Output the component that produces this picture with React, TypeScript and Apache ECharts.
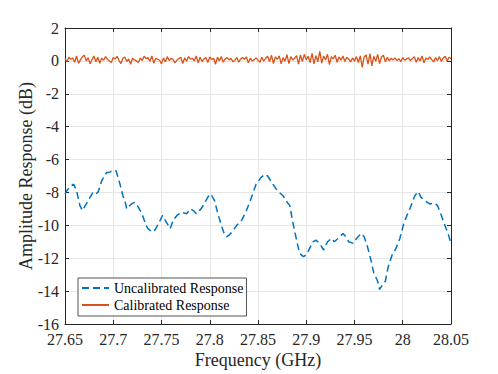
import React, { useEffect, useRef } from "react";
import * as echarts from "echarts";

const uncalFreq = [
  27.65, 27.653, 27.656, 27.659, 27.662, 27.6655, 27.668, 27.671, 27.674, 27.677,
  27.679, 27.682, 27.6845, 27.688, 27.691, 27.693, 27.697, 27.7, 27.703, 27.707,
  27.71, 27.712, 27.714, 27.717, 27.719, 27.722, 27.725, 27.728, 27.731, 27.734,
  27.736, 27.74, 27.743, 27.747, 27.751, 27.755, 27.759, 27.762, 27.766, 27.771,
  27.776, 27.78, 27.783, 27.786, 27.791, 27.795, 27.799, 27.801, 27.805, 27.808,
  27.812, 27.815, 27.8175, 27.82, 27.823, 27.828, 27.833, 27.838, 27.842, 27.845,
  27.848, 27.853, 27.857, 27.86, 27.8655, 27.869, 27.872, 27.876, 27.879, 27.883,
  27.886, 27.89, 27.893, 27.897, 27.9, 27.9035, 27.907, 27.91, 27.914, 27.918,
  27.922, 27.926, 27.929, 27.933, 27.938, 27.941, 27.944, 27.949, 27.952, 27.957,
  27.96, 27.963, 27.967, 27.97, 27.974, 27.976, 27.979, 27.982, 27.985, 27.989,
  27.993, 27.997, 28.001, 28.005, 28.008, 28.0125, 28.016, 28.019, 28.023, 28.028,
  28.033, 28.036, 28.04, 28.043, 28.047, 28.05,
];
const uncalDb = [
  -8.1, -7.8, -7.6, -7.5, -7.9, -8.8, -9.1, -8.8, -8.5, -8.2,
  -8.0, -8.1, -7.95, -7.3, -7.0, -6.8, -6.75, -6.65, -6.7, -7.5,
  -8.2, -8.5, -9.0, -8.8, -8.7, -8.6, -8.8, -9.1, -9.5, -10.0,
  -10.2, -10.4, -10.3, -9.9, -9.4, -9.8, -10.2, -9.7, -9.4, -9.2,
  -9.3, -9.0, -9.1, -9.3, -9.0, -8.6, -8.2, -8.1, -8.5, -9.2,
  -10.0, -10.5, -10.7, -10.6, -10.4, -10.0, -9.7, -9.1, -8.5, -8.0,
  -7.5, -7.1, -6.9, -7.0, -7.5, -7.8, -8.0, -8.2, -8.5, -8.8,
  -9.8, -10.9, -11.7, -11.9, -11.8, -11.4, -11.0, -10.9, -11.1, -11.5,
  -11.0, -10.8, -11.0, -10.8, -10.5, -10.7, -11.0, -11.1, -10.8, -10.5,
  -10.7, -11.2, -12.1, -12.9, -13.4, -13.9, -13.6, -13.4, -12.5, -11.8,
  -11.4, -10.8, -9.9, -9.3, -8.9, -8.2, -7.95, -8.3, -8.5, -8.7,
  -8.65, -8.8, -9.4, -9.9, -10.5, -11.1,
];

const calStart = 27.65;
const calStep = 0.002;
const calDb = [
  0.15, -0.05, 0.22, 0.10, 0.18, -0.08, 0.30, -0.15, 0.06, 0.25,
  0.35, 0.00, 0.20, -0.18, 0.08, 0.30, -0.05, 0.22, -0.14, 0.16,
  0.04, 0.26, 0.10, 0.00, -0.10, 0.20, 0.12, 0.28, 0.02, -0.16,
  0.16, 0.24, -0.04, 0.12, -0.20, 0.16, 0.06, 0.00, -0.10, 0.18,
  0.02, 0.28, 0.14, 0.20, -0.02, 0.30, -0.14, 0.16, 0.10, 0.04,
  -0.18, 0.18, -0.06, 0.26, 0.02, 0.16, 0.08, -0.12, 0.04, 0.14,
  0.22, -0.16, 0.18, -0.02, 0.26, 0.10, 0.16, 0.00, 0.30, -0.12,
  0.22, -0.04, 0.12, 0.20, -0.10, 0.24, 0.08, 0.16, -0.20, 0.22,
  0.00, 0.26, -0.08, 0.12, 0.20, 0.06, 0.16, -0.06, 0.04, 0.20,
  -0.08, 0.12, 0.20, 0.10, 0.24, -0.12, 0.16, 0.00, 0.06, 0.18,
  0.04, -0.08, 0.22, -0.02, 0.16, 0.28, -0.06, 0.34, -0.16, 0.24,
  0.10, 0.30, -0.18, 0.20, -0.02, 0.38, -0.16, 0.26, 0.06, 0.16,
  0.32, -0.20, 0.36, -0.04, 0.40, 0.06, 0.28, -0.10, 0.46, -0.18,
  0.32, -0.06, 0.58, -0.14, 0.30, 0.06, 0.40, -0.22, 0.26, 0.12,
  0.34, -0.08, 0.24, 0.04, 0.30, -0.04, 0.22, 0.10, -0.06, 0.18,
  -0.02, 0.26, -0.10, 0.30, -0.40, 0.24, 0.36, -0.20, 0.44, -0.30,
  0.28, -0.02, 0.40, -0.16, 0.24, 0.34, -0.06, 0.22, 0.00, 0.16,
  0.06, 0.18, 0.02, 0.14, -0.04, 0.20, 0.04, 0.12, 0.18, 0.02,
  0.14, 0.26, -0.08, 0.20, 0.00, 0.30, -0.12, 0.18, 0.08, 0.24,
  0.08, -0.06, 0.20, 0.02, 0.26, -0.04, 0.18, 0.28, 0.00, 0.22,
  0.14,
];

const xTickMin = 27.65;
const xTickMax = 28.05;
const xTickStep = 0.05;
const yTickMin = -16;
const yTickMax = 2;
const yTickStep = 2;

const FONT = "'Liberation Serif', 'Times New Roman', serif";
const TXT = "#262626";

export default function App() {
  const ref = useRef<HTMLDivElement>(null);
  useEffect(() => {
    document.body.style.margin = "0";
    if (!ref.current) return;
    const chart = echarts.init(ref.current, undefined, { renderer: "svg" });
    const uncal = uncalFreq.map((f, i) => [f, uncalDb[i]]);
    const cal = calDb.map((v, i) => [calStart + i * calStep, v]);
    const fmtX = (v: number) => String(parseFloat(v.toFixed(2)));
    const axisLine = { show: true, onZero: false, lineStyle: { color: TXT, width: 1 } };
    chart.setOption({
      animation: false,
      backgroundColor: "#fff",
      textStyle: { fontFamily: FONT },
      grid: { left: 65, right: 47, top: 28, bottom: 46 },
      legend: {
        left: 78,
        top: 278,
        orient: "vertical",
        backgroundColor: "#fff",
        borderColor: TXT,
        borderWidth: 0.8,
        borderRadius: 0,
        padding: [3, 3, 4, 3],
        itemGap: 3,
        itemWidth: 27,
        itemHeight: 14,
        itemStyle: { opacity: 0 },
        textStyle: { fontFamily: FONT, fontSize: 14, color: "#000" },
        data: ["Uncalibrated Response", "Calibrated Response"],
      },
      xAxis: [
        {
          type: "value",
          min: xTickMin,
          max: xTickMax,
          interval: xTickStep,
          name: "Frequency (GHz)",
          nameLocation: "middle",
          nameGap: 27,
          nameMoveOverlap: false,
          nameTextStyle: { fontFamily: FONT, fontSize: 18, color: TXT },
          axisLine,
          axisTick: { show: true, inside: true, length: 4, lineStyle: { color: TXT } },
          axisLabel: { fontFamily: FONT, fontSize: 16, color: TXT, margin: 7, formatter: fmtX },
          splitLine: { show: true, lineStyle: { color: "#e6e6e6", width: 1 } },
        },
        {
          type: "value",
          position: "top",
          min: xTickMin,
          max: xTickMax,
          interval: xTickStep,
          axisLine,
          axisTick: { show: true, inside: true, length: 4, lineStyle: { color: TXT } },
          axisLabel: { show: false },
          splitLine: { show: false },
        },
      ],
      yAxis: [
        {
          type: "value",
          min: yTickMin,
          max: yTickMax,
          interval: yTickStep,
          name: "Amplitude Response (dB)",
          nameLocation: "middle",
          nameGap: 30,
          nameMoveOverlap: false,
          nameTextStyle: { fontFamily: FONT, fontSize: 18, color: TXT },
          axisLine,
          axisTick: { show: true, inside: true, length: 4, lineStyle: { color: TXT } },
          axisLabel: { fontFamily: FONT, fontSize: 16, color: TXT, margin: 6 },
          splitLine: { show: true, lineStyle: { color: "#e6e6e6", width: 1 } },
        },
        {
          type: "value",
          position: "right",
          min: yTickMin,
          max: yTickMax,
          interval: yTickStep,
          axisLine,
          axisTick: { show: true, inside: true, length: 4, lineStyle: { color: TXT } },
          axisLabel: { show: false },
          splitLine: { show: false },
        },
      ],
      series: [
        {
          name: "Uncalibrated Response",
          type: "line",
          data: uncal,
          symbol: "none",
          color: "#0072BD",
          lineStyle: { color: "#0072BD", width: 1.5, type: [7, 4] },
          z: 3,
        },
        {
          name: "Calibrated Response",
          type: "line",
          data: cal,
          symbol: "none",
          color: "#D95319",
          lineStyle: { color: "#D95319", width: 1.3 },
          z: 2,
        },
      ],
    });
    return () => chart.dispose();
  }, []);
  return <div ref={ref} style={{ width: 498, height: 374 }} />;
}
